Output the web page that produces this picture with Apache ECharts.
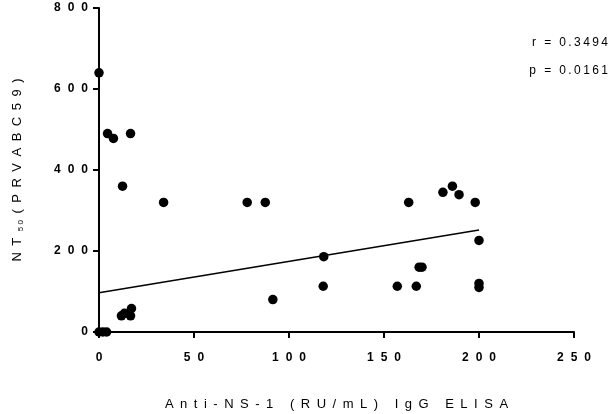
<!DOCTYPE html>
<html>
<head>
<meta charset="utf-8">
<script src="https://cdn.jsdelivr.net/npm/echarts@6/dist/echarts.min.js"></script>
<style>html,body{margin:0;padding:0;background:#fff}#c{width:615px;height:414px}</style>
</head>
<body>
<div id="c"></div>
<script>
// Data
var xValues = [0, 4.5, 7.6, 16.6, 12.4, 34, 78, 87.5, 163, 181, 186, 189.5, 198, 200, 118.3, 118, 157, 167, 168.5, 170, 200, 200, 91.5, 11.8, 13.4, 16.6, 17.1, 0, 2, 4];
var yValues = [640, 490, 478, 490, 360, 320, 320, 320, 320, 345, 360, 339, 320, 226, 186, 113, 113, 113, 160, 160, 120, 110, 80, 40, 46, 40, 58, 0, 0, 0];
var fitX = [0, 200];
var fitY = [97, 252];
var xTicks = [0, 50, 100, 150, 200, 250];
var yTicks = [0, 200, 400, 600, 800];
var statLines = ['r = 0.3494', 'p = 0.0161'];
var xTitle = 'Anti-NS-1 (RU/mL) IgG ELISA';

function spread(s, sep) { return String(s).split('').join(sep); }

var points = xValues.map(function (x, i) { return [x, yValues[i]]; });
var fitLine = fitX.map(function (x, i) { return [x, fitY[i]]; });

var FONT = 'Liberation Sans, Arial, sans-serif';
var GAP = '\u2002';
var TICKGAP = '\u2002\u200A';
var chart = echarts.init(document.getElementById('c'));
chart.setOption({
  animation: false,
  backgroundColor: '#fff',
  grid: { left: 99, right: 41, top: 8, bottom: 82, containLabel: false, outerBoundsMode: 'none' },
  xAxis: {
    type: 'value', min: xTicks[0], max: xTicks[xTicks.length - 1], interval: 50,
    splitLine: { show: false },
    axisLine: { show: true, onZero: false, lineStyle: { color: '#000', width: 2 } },
    axisTick: { show: true, length: 6, lineStyle: { color: '#000', width: 2 } },
    axisLabel: { margin: 20, color: '#000', fontWeight: 'bold', fontSize: 12, fontFamily: FONT,
      formatter: function (v) { return spread(v, TICKGAP); } },
    name: spread(xTitle, GAP), nameLocation: 'middle', nameGap: 66,
    nameTextStyle: { color: '#000', fontSize: 13, fontFamily: FONT }
  },
  yAxis: {
    type: 'value', min: yTicks[0], max: yTicks[yTicks.length - 1], interval: 200,
    splitLine: { show: false },
    axisLine: { show: true, onZero: false, lineStyle: { color: '#000', width: 2 } },
    axisTick: { show: true, length: 6, lineStyle: { color: '#000', width: 2 } },
    axisLabel: { margin: 11, color: '#000', fontWeight: 'bold', fontSize: 12, fontFamily: FONT,
      formatter: function (v) { return spread(v, TICKGAP); } },
    name: '{a|N' + GAP + 'T' + GAP + '}{s|5\u2009\u200A0}{a|' + GAP + spread('(PRVABC59)', GAP) + '}',
    nameLocation: 'middle', nameGap: 73,
    nameTextStyle: {
      color: '#000', fontSize: 13, fontFamily: FONT,
      rich: {
        a: { color: '#000', fontSize: 13, fontFamily: FONT, lineHeight: 18 },
        s: { color: '#000', fontSize: 8, fontFamily: FONT, lineHeight: 18, padding: [8, 0, 0, 0] }
      }
    }
  },
  graphic: [
    { type: 'text', right: 7, top: 37, style: { text: spread(statLines[0], '\u2009'), fill: '#000', font: '12px ' + FONT, textAlign: 'right' } },
    { type: 'text', right: 7, top: 65, style: { text: spread(statLines[1], '\u2009'), fill: '#000', font: '12px ' + FONT, textAlign: 'right' } }
  ],
  series: [
    { type: 'line', data: fitLine, symbol: 'none', lineStyle: { color: '#000', width: 1.5 }, z: 2 },
    { type: 'scatter', data: points, symbol: 'circle', symbolSize: 9.5, clip: false,
      itemStyle: { color: '#000', opacity: 1 }, z: 3 }
  ]
});
</script>
</body>
</html>
